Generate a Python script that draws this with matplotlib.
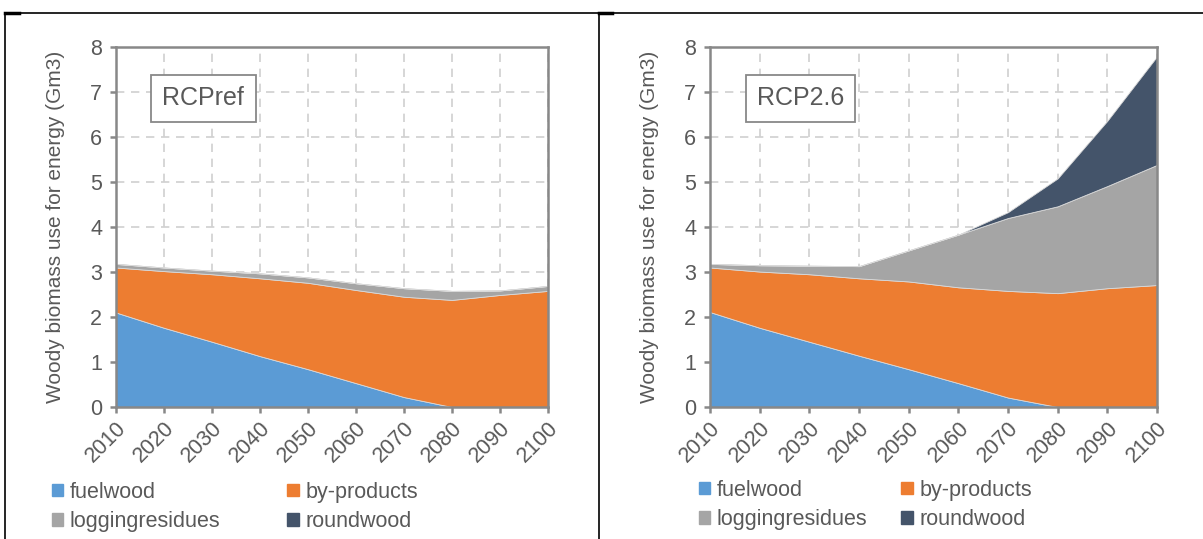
import numpy as np
import matplotlib
matplotlib.use("Agg")
import matplotlib.pyplot as plt
from matplotlib.patches import Patch
from matplotlib.lines import Line2D

plt.rcParams['font.family'] = ['Liberation Sans', 'DejaVu Sans']

years = [2010, 2020, 2030, 2040, 2050, 2060, 2070, 2080, 2090, 2100]
series_names = ['fuelwood', 'by-products', 'loggingresidues', 'roundwood']
colors = ['#5B9BD5', '#ED7D31', '#A5A5A5', '#44546A']

# RCPref scenario (Gm3)
ref_fuelwood = [2.10, 1.76, 1.45, 1.13, 0.84, 0.53, 0.22, 0.0, 0.0, 0.0]
ref_byproducts = [1.00, 1.26, 1.50, 1.73, 1.92, 2.07, 2.23, 2.38, 2.49, 2.58]
ref_logging = [0.08, 0.08, 0.08, 0.11, 0.12, 0.15, 0.19, 0.20, 0.10, 0.11]
ref_roundwood = [0, 0, 0, 0, 0, 0, 0, 0, 0, 0]

# RCP2.6 scenario (Gm3)
rcp26_fuelwood = [2.11, 1.76, 1.45, 1.14, 0.84, 0.53, 0.21, 0.0, 0.0, 0.0]
rcp26_byproducts = [0.99, 1.25, 1.50, 1.72, 1.95, 2.13, 2.37, 2.53, 2.64, 2.71]
rcp26_logging = [0.08, 0.14, 0.19, 0.27, 0.69, 1.17, 1.62, 1.93, 2.27, 2.67]
rcp26_roundwood = [0, 0, 0, 0, 0, 0, 0.13, 0.62, 1.45, 2.41]

panels = [
    ('RCPref', [ref_fuelwood, ref_byproducts, ref_logging, ref_roundwood]),
    ('RCP2.6', [rcp26_fuelwood, rcp26_byproducts, rcp26_logging, rcp26_roundwood]),
]

W, H = 1203, 539
fig = plt.figure(figsize=(W / 100, H / 100), dpi=100)

txt_col = '#595959'
ax_col = '#888888'
axes_px = [(116, 548), (710, 1157)]
legend_px = [(43, 473), (690, 471)]
col_space = [3.1, 1.55]

for (title, data), (x0, x1), (lx, ly), cs in zip(panels, axes_px, legend_px, col_space):
    ax = fig.add_axes([x0 / W, 1 - 407 / H, (x1 - x0) / W, 360 / H])
    ax.stackplot(years, *data, colors=colors, edgecolor='#d9d9d9', linewidth=0.6)
    ax.set_xlim(2010, 2100)
    ax.set_ylim(0, 8)
    ax.set_xticks(years)
    ax.set_yticks(range(0, 9))
    ax.set_axisbelow(True)
    ax.grid(True, color='#d0d0d0', linestyle=(0, (5, 4)), linewidth=1.2)
    for s in ax.spines.values():
        s.set_color(ax_col)
        s.set_linewidth(1.8)
        s.set_zorder(5)
    ax.tick_params(colors=ax_col, labelcolor=txt_col, labelsize=15.5, length=4, width=1.8)
    ax.tick_params(axis='y', pad=6)
    for lab in ax.get_xticklabels():
        lab.set_rotation(45)
        lab.set_ha('right')
        lab.set_rotation_mode('anchor')
    ax.set_ylabel('Woody biomass use for energy (Gm3)', color=txt_col, fontsize=15, labelpad=18)
    ax.text(2028.2, 6.86, title, fontsize=18, color=txt_col, ha='center', va='center',
            bbox=dict(boxstyle='square,pad=0.45', fc='white', ec=ax_col, lw=1.3), zorder=6)

    # row-major order like the original legend
    order = [0, 2, 1, 3]
    handles = [Patch(facecolor=colors[i], edgecolor=colors[i]) for i in order]
    labels = [series_names[i] for i in order]
    fig.legend(handles, labels, loc='upper left', bbox_to_anchor=(lx / W, 1 - ly / H),
               ncol=2, frameon=False, fontsize=15.5, labelcolor=txt_col,
               handlelength=0.55, handleheight=0.55, handletextpad=0.3,
               columnspacing=cs, labelspacing=0.4, borderaxespad=0)

# table-like frame lines
top = 1 - 13 / H
fig.add_artist(Line2D([5 / W, 1], [top, top], color='black', lw=1.2))
fig.add_artist(Line2D([5 / W, 5 / W], [0, top], color='black', lw=1.2))
fig.add_artist(Line2D([598.5 / W, 598.5 / W], [0, top], color='black', lw=1.2))
fig.add_artist(Line2D([5 / W, 19 / W], [top, top], color='black', lw=2.5))
fig.add_artist(Line2D([598.5 / W, 612 / W], [top, top], color='black', lw=2.5))

fig.savefig('out.png', dpi=100)
